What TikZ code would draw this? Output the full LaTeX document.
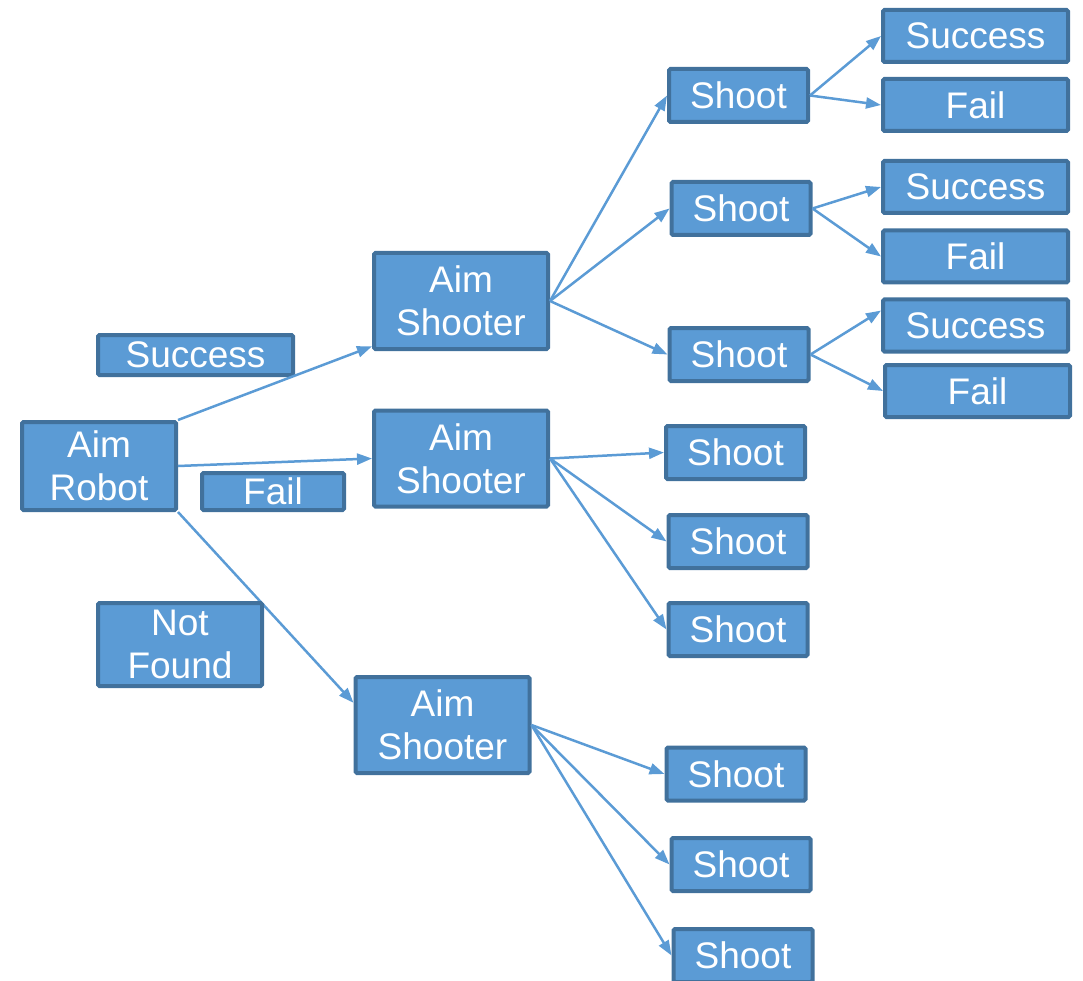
\documentclass[tikz,border=0pt]{standalone}
\usepackage{fontspec}
\setmainfont{Liberation Sans}
\usetikzlibrary{arrows.meta}
\definecolor{boxfill}{HTML}{5B9BD5}
\definecolor{boxline}{HTML}{41719C}
\tikzset{
  blk/.style={draw=boxline, fill=boxfill, line width=4pt, rounded corners=1.5pt,
    text=white, inner sep=0pt, align=center, font=\fontsize{37}{43}\selectfont},
  shootbox/.style={blk, minimum width=139pt, minimum height=53pt},
  endbox/.style={blk, minimum width=185pt, minimum height=52pt},
  aimbox/.style={blk, minimum width=174pt, minimum height=96pt},
  arr/.style={draw=boxfill, line width=2.5pt, -{Triangle[length=15pt,width=11pt]}}
}
\begin{document}
\begin{tikzpicture}[x=1pt, y=-1pt]
  \clip (0,0) rectangle (1083,981);
  % left side
  \node[blk, minimum width=195pt, minimum height=40pt] (succ) at (195.5,355) {Success};
  \node[blk, minimum width=142pt, minimum height=37pt] (fail) at (273,491.5) {Fail};
  \node[aimbox, minimum width=154pt, minimum height=88pt] (robot) at (99,466) {Aim\\Robot};
  \node[aimbox] (as1) at (461,301) {Aim\\Shooter};
  \node[aimbox] (as2) at (461,458.5) {Aim\\Shooter};
  \node[aimbox] (as3) at (442.5,725) {Aim\\Shooter};
  % shots and outcomes
  \foreach \i/\x/\y in {1/738.5/95.5, 2/741/208.5, 3/739/354.5, 4/735.5/452.5, 5/738/541.5,
      6/738/629.5, 7/736/774, 8/741/864.5, 9/743/955.5}
    \node[shootbox] (sh\i) at (\x,\y) {Shoot};
  \foreach \i/\x/\y in {1/975.5/36, 2/975.5/187, 3/975.5/325.5}
    \node[endbox] (ok\i) at (\x,\y) {Success};
  \foreach \i/\x/\y in {1/975.5/105, 2/975.5/256.5, 3/977.5/391}
    \node[endbox] (fl\i) at (\x,\y) {Fail};
  % arrows
  \draw[arr] (robot.north east) -- (as1.207);
  \draw[arr] (robot.east) -- (as2.west);
  \draw[arr] (robot.south east) -- (as3.166);
  \foreach \a/\b in {as1/sh1, as1/sh2, as1/sh3, as2/sh4, as2/sh5, as2/sh6, as3/sh7, as3/sh8, as3/sh9,
      sh1/ok1, sh1/fl1, sh2/ok2, sh2/fl2, sh3/fl3}
    \draw[arr] (\a.east) -- (\b.west);
  \draw[arr] (sh3.east) -- (ok3.171);
  \node[aimbox, minimum width=164pt, minimum height=83pt] (nf) at (180,644.5) {Not\\Found};
\end{tikzpicture}
\end{document}
